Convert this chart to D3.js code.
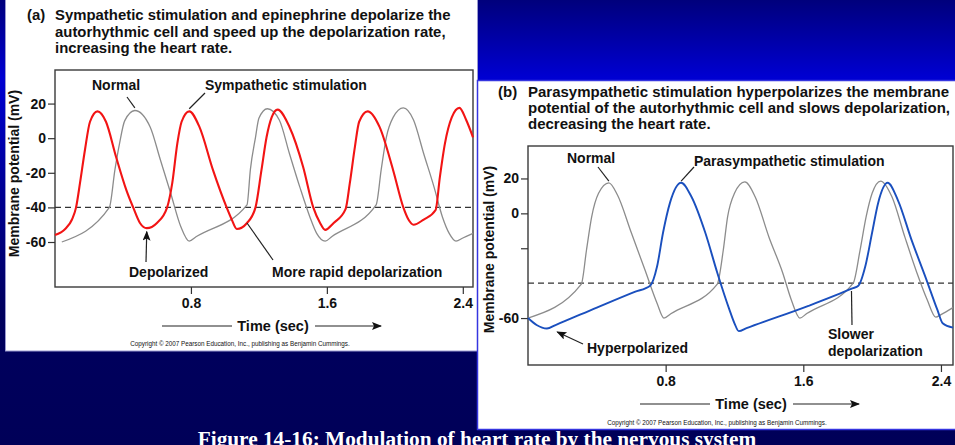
<!DOCTYPE html>
<html>
<head>
<meta charset="utf-8">
<script src="https://cdn.jsdelivr.net/npm/d3@7"></script>
<style>
  body { margin: 0; background: #000058; overflow: hidden; }
  svg { display: block; }
  text { font-family: "Liberation Sans", Arial, Helvetica, sans-serif; font-weight: bold; fill: #111; }
</style>
</head>
<body>
<div id="chart"></div>
<script>
// ---- values: [time (s), membrane potential (mV)] ----
const timeTicks = [0.8, 1.6, 2.4];
const mvTicksA = [20, 0, -20, -40, -60];
const mvTicksB = [20, 0, -20, -60];
const mvLabelsB = ["20", "0", "", "-60"];
const threshold = -40;

const normalA = [
  [0.04, -60], [0.32, -40], [0.353, -18], [0.38, -3], [0.41, 10], [0.47, 16],
  [0.56, 6.5], [0.62, -12.5], [0.68, -31.5], [0.74, -51], [0.79, -59.5], [0.83, -57],
  [1.13, -38.5], [1.15, -18], [1.18, 0.5], [1.20, 11.5], [1.25, 17], [1.32, 10.5],
  [1.38, -9], [1.44, -28], [1.50, -45.5], [1.54, -55], [1.59, -59.5], [1.63, -56.8],
  [1.89, -38.5], [1.92, -18], [1.95, 0.5], [1.99, 12], [2.05, 17.5], [2.11, 10.5],
  [2.17, -9], [2.23, -28], [2.28, -45.5], [2.32, -55], [2.36, -59.5], [2.40, -57.7], [2.46, -55]
];

const sympatheticA = [
  [0, -56], [0.06, -52.5], [0.10, -47], [0.124, -40], [0.147, -26], [0.176, -7],
  [0.206, 9.5], [0.25, 15.5], [0.30, 9.5], [0.36, -11], [0.42, -30], [0.46, -40],
  [0.50, -49], [0.54, -52], [0.60, -49], [0.66, -40],
  [0.69, -26], [0.72, -3], [0.745, 9.5], [0.79, 15.5], [0.85, 6.5], [0.93, -18.5],
  [1.01, -40], [1.04, -47], [1.07, -52.5], [1.13, -49], [1.18, -40],
  [1.215, -18.5], [1.245, 0.5], [1.275, 12], [1.31, 16.5], [1.38, 6.5], [1.46, -16.5],
  [1.52, -40], [1.56, -49], [1.59, -53], [1.64, -49], [1.71, -41],
  [1.735, -26], [1.765, -5], [1.79, 9.5], [1.84, 15.5], [1.91, 6.5], [1.99, -18.5],
  [2.05, -40], [2.08, -47], [2.11, -50], [2.17, -47], [2.24, -41.5],
  [2.265, -22.5], [2.295, -3], [2.335, 12], [2.38, 17.5], [2.42, 10.5], [2.46, 0.5]
];

const normalB = [
  [0, -60], [0.31, -40.5], [0.34, -21], [0.37, -2], [0.41, 11.5], [0.47, 17.5],
  [0.52, 10.5], [0.60, -11], [0.68, -32.5], [0.75, -51.5], [0.79, -60], [0.83, -57.5],
  [1.10, -40.5], [1.135, -21], [1.16, -2], [1.20, 11.5], [1.26, 18], [1.32, 9.5],
  [1.40, -13.5], [1.48, -34], [1.53, -49.5], [1.58, -60], [1.62, -57.4],
  [1.89, -40], [1.93, -21], [1.965, -2], [2.0, 11.5], [2.05, 18.5], [2.115, 9.5],
  [2.19, -13.5], [2.26, -34], [2.32, -49.5], [2.37, -59.5], [2.40, -58], [2.47, -54]
];

const parasympatheticB = [
  [0, -60], [0.05, -64], [0.11, -66], [0.16, -64], [0.40, -54], [0.62, -45], [0.71, -41.5],
  [0.75, -30.5], [0.785, -11], [0.825, 6], [0.89, 17.5], [0.95, 9.5], [1.03, -11],
  [1.10, -34], [1.17, -55], [1.20, -63], [1.225, -67.5],
  [1.27, -65.8], [1.63, -53], [1.885, -43], [1.92, -41.5], [1.96, -30.5], [2.0, -11],
  [2.035, 6], [2.09, 17.5], [2.15, 7.5], [2.23, -15.5], [2.31, -36.5], [2.38, -55.5],
  [2.41, -63], [2.47, -65.5]
];

const titleA = ["Sympathetic stimulation and epinephrine depolarize the",
                "autorhythmic cell and speed up the depolarization rate,",
                "increasing the heart rate."];
const titleB = ["Parasympathetic stimulation hyperpolarizes the membrane",
                "potential of the autorhythmic cell and slows depolarization,",
                "decreasing the heart rate."];
const copyright = "Copyright \u00a9 2007 Pearson Education, Inc., publishing as Benjamin Cummings.";

const width = 955, height = 445;

const svg = d3.select("#chart").append("svg")
  .attr("width", width)
  .attr("height", height);

const defs = svg.append("defs");
const grad = defs.append("linearGradient")
  .attr("id", "bg").attr("x1", 0).attr("y1", 0).attr("x2", 0).attr("y2", 1);
grad.append("stop").attr("offset", 0).attr("stop-color", "#00007c");
grad.append("stop").attr("offset", 0.175).attr("stop-color", "#0000d2");
grad.append("stop").attr("offset", 0.45).attr("stop-color", "#000090");
grad.append("stop").attr("offset", 0.7).attr("stop-color", "#00005e");
grad.append("stop").attr("offset", 1).attr("stop-color", "#000058");

defs.append("marker")
  .attr("id", "head")
  .attr("markerUnits", "userSpaceOnUse")
  .attr("markerWidth", 12).attr("markerHeight", 10)
  .attr("refX", 9).attr("refY", 4)
  .attr("orient", "auto")
  .append("path")
  .attr("d", "M0,0 L10,4 L0,8 L2,4 Z")
  .attr("fill", "#111");

svg.append("rect")
  .attr("width", width).attr("height", height)
  .attr("fill", "url(#bg)");

// white panels
svg.append("rect")
  .attr("x", 5.5).attr("y", -2).attr("width", 472).attr("height", 353)
  .attr("fill", "#fff").attr("stroke", "#9a9ad0").attr("stroke-width", 1);
svg.append("rect")
  .attr("x", 477.5).attr("y", 80.5).attr("width", 480).attr("height", 349)
  .attr("fill", "#fff").attr("stroke", "#3535e0").attr("stroke-width", 1.5);

function drawPanel(cfg) {
  const x = d3.scaleLinear().domain(cfg.tDomain).range([cfg.left, cfg.right]);
  const y = d3.scaleLinear().domain(cfg.vDomain).range([cfg.bottom, cfg.top]);
  const g = svg.append("g");

  // title
  const title = g.append("g").style("font-size", cfg.titleSize + "px");
  title.append("text").attr("x", cfg.tagX).attr("y", cfg.titleY[0]).text(cfg.tag);
  title.selectAll(".tl").data(cfg.title).enter().append("text")
    .attr("class", "tl")
    .attr("x", cfg.left)
    .attr("y", (d, i) => cfg.titleY[i])
    .attr("textLength", (d, i) => cfg.titleFit && cfg.titleFit[i] ? cfg.titleFit[i] : null)
    .attr("lengthAdjust", "spacing")
    .text(d => d);

  // frame
  g.append("rect")
    .attr("x", cfg.left).attr("y", cfg.top)
    .attr("width", cfg.right - cfg.left).attr("height", cfg.bottom - cfg.top)
    .attr("fill", "none").attr("stroke", "#3a3a3a").attr("stroke-width", 1.4);

  // axes
  const yAxis = g.append("g")
    .attr("transform", `translate(${cfg.left},0)`)
    .call(d3.axisLeft(y).tickValues(cfg.vTicks).tickSize(7).tickPadding(2)
      .tickFormat((d, i) => cfg.vLabels ? cfg.vLabels[i] : String(d)));
  const xAxis = g.append("g")
    .attr("transform", `translate(0,${cfg.bottom})`)
    .call(d3.axisBottom(x).tickValues(timeTicks).tickSize(7).tickPadding(4)
      .tickFormat(d3.format(".1f")));
  [yAxis, xAxis].forEach(a => {
    a.select(".domain").remove();
    a.selectAll(".tick line").attr("stroke", "#333").attr("stroke-width", 1.2);
    a.selectAll(".tick text")
      .attr("fill", "#111")
      .style("font-family", "'Liberation Sans', Arial, sans-serif")
      .style("font-weight", "bold")
      .style("font-size", "14px");
  });

  // threshold
  g.append("line")
    .attr("x1", cfg.left).attr("x2", cfg.right)
    .attr("y1", y(threshold)).attr("y2", y(threshold))
    .attr("stroke", "#333").attr("stroke-width", 1.3)
    .attr("stroke-dasharray", "6,4");

  const line = d3.line()
    .x(d => x(d[0])).y(d => y(d[1]))
    .curve(d3.curveMonotoneX);

  g.append("path").datum(cfg.normal)
    .attr("d", line).attr("fill", "none")
    .attr("stroke", "#8c8c8c").attr("stroke-width", 1.3);
  g.append("path").datum(cfg.stim)
    .attr("d", line).attr("fill", "none")
    .attr("stroke", cfg.stimColor).attr("stroke-width", cfg.stimWidth);

  // annotations
  cfg.notes.forEach(n => {
    n.lines.forEach((t, i) => {
      g.append("text").attr("x", n.x).attr("y", n.y + i * 17)
        .style("font-size", "14px").text(t);
    });
    g.append("line")
      .attr("x1", n.from[0]).attr("y1", n.from[1])
      .attr("x2", x(n.to[0])).attr("y2", y(n.to[1]))
      .attr("stroke", "#222").attr("stroke-width", 1.2)
      .attr("marker-end", n.arrow ? "url(#head)" : null);
  });

  // axis titles
  g.append("text")
    .attr("transform", `translate(${cfg.yLabelX},${(cfg.top + cfg.bottom) / 2 + cfg.yLabelShift}) rotate(-90)`)
    .attr("text-anchor", "middle")
    .style("font-size", "14px")
    .text("Membrane potential (mV)");

  const tx = cfg.timeLabel;
  g.append("text")
    .attr("x", tx.cx).attr("y", tx.y + 5)
    .attr("text-anchor", "middle")
    .style("font-size", "14.5px")
    .text("Time (sec)");
  g.append("line")
    .attr("x1", tx.cx - 111).attr("x2", tx.cx - 41)
    .attr("y1", tx.y).attr("y2", tx.y)
    .attr("stroke", "#222").attr("stroke-width", 1.1);
  g.append("line")
    .attr("x1", tx.cx + 42).attr("x2", tx.cx + 108)
    .attr("y1", tx.y).attr("y2", tx.y)
    .attr("stroke", "#222").attr("stroke-width", 1.1)
    .attr("marker-end", "url(#head)");

  g.append("text")
    .attr("x", cfg.copyX).attr("y", cfg.copyY)
    .attr("text-anchor", "middle")
    .style("font-size", "6.3px").style("font-weight", "normal")
    .attr("fill", "#333")
    .text(copyright);
}

drawPanel({
  left: 55, right: 473, top: 70, bottom: 287,
  tDomain: [0, 2.46], vDomain: [-86, 39.4],
  vTicks: mvTicksA,
  tag: "(a)", tagX: 27, title: titleA, titleY: [20, 36.5, 53], titleSize: 14.9,
  normal: normalA, stim: sympatheticA, stimColor: "#f21414", stimWidth: 2.1,
  notes: [
    { lines: ["Normal"], x: 92, y: 90, from: [127, 97], to: [0.47, 17.5] },
    { lines: ["Sympathetic stimulation"], x: 205, y: 90, from: [205, 93], to: [0.79, 17] },
    { lines: ["Depolarized"], x: 129, y: 277, from: [146, 262], to: [0.54, -54], arrow: true },
    { lines: ["More rapid depolarization"], x: 272, y: 277, from: [273, 260], to: [1.13, -49] }
  ],
  yLabelX: 19, yLabelShift: -5,
  timeLabel: { cx: 273, y: 326 },
  copyX: 240, copyY: 346
});

drawPanel({
  left: 528, right: 953, top: 146, bottom: 365,
  tDomain: [0, 2.47], vDomain: [-86.9, 38.6],
  vTicks: mvTicksB, vLabels: mvLabelsB,
  tag: "(b)", tagX: 498, title: titleB, titleY: [97, 113, 129], titleSize: 15,
  titleFit: [421, 422],
  normal: normalB, stim: parasympatheticB, stimColor: "#1a4fbe", stimWidth: 1.9,
  notes: [
    { lines: ["Normal"], x: 567, y: 163, from: [598, 167], to: [0.47, 18.5] },
    { lines: ["Parasympathetic stimulation"], x: 694, y: 166, from: [694, 167], to: [0.89, 18.5] },
    { lines: ["Hyperpolarized"], x: 587, y: 353, from: [583, 344], to: [0.17, -68], arrow: true },
    { lines: ["Slower", "depolarization"], x: 828, y: 339, from: [852, 325], to: [1.88, -44.5] }
  ],
  yLabelX: 494, yLabelShift: -6,
  timeLabel: { cx: 751, y: 404 },
  copyX: 717, copyY: 425
});

// caption (the reference crops it at the bottom edge)
svg.append("text")
  .attr("x", 477).attr("y", 446)
  .attr("text-anchor", "middle")
  .style("font-family", "'Liberation Serif', 'Times New Roman', serif")
  .style("font-size", "21.3px")
  .style("fill", "#fff")
  .text("Figure 14-16: Modulation of heart rate by the nervous system");
</script>
</body>
</html>
